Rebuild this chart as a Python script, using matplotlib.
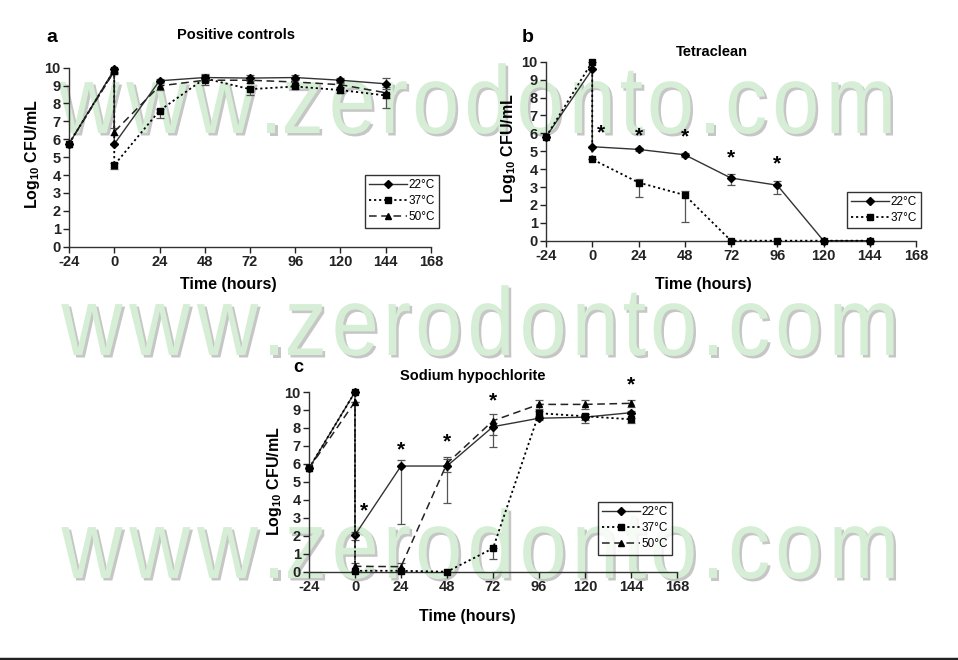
import matplotlib
matplotlib.use("Agg")
import matplotlib.pyplot as plt
from matplotlib.textpath import TextPath, text_to_path
from matplotlib.font_manager import FontProperties
from matplotlib.patches import PathPatch
from matplotlib.transforms import Affine2D

plt.rcParams['font.family'] = ['Liberation Sans', 'DejaVu Sans']

# ---------------- data ----------------
hours = [-24, 0, 0, 24, 48, 72, 96, 120, 144]
xticks = [-24, 0, 24, 48, 72, 96, 120, 144, 168]
yticks = list(range(0, 11))

# Panel a: Positive controls
a22 = [5.75, 9.9, 5.73, 9.27, 9.45, 9.42, 9.45, 9.3, 9.1]
a37 = [5.75, 9.85, 4.56, 7.6, 9.4, 8.8, 8.95, 8.75, 8.45]
a50 = [5.75, 9.8, 6.42, 8.98, 9.3, 9.3, 9.2, 9.05, 8.6]
a22_lo = [0, 0.25, 0, 0.1, 0.2, 0.15, 0.15, 0.15, 0.3]
a22_hi = [0, 0.25, 0, 0.1, 0.2, 0.15, 0.15, 0.15, 0.3]
a37_lo = [0, 0.1, 0.2, 0.4, 0.2, 0.35, 0.15, 0.15, 0.7]
a37_hi = [0, 0.1, 0.1, 0.1, 0.2, 0.1, 0.1, 0.1, 0.1]
a50_lo = [0, 0.1, 0.2, 0.2, 0.25, 0.15, 0.15, 0.15, 0.3]
a50_hi = [0, 0.1, 0.2, 0.2, 0.25, 0.15, 0.15, 0.15, 0.3]

# Panel b: Tetraclean
b22 = [5.8, 9.58, 5.25, 5.1, 4.8, 3.5, 3.1, 0, 0]
b37 = [5.8, 10.0, 4.55, 3.25, 2.55, 0, 0, 0, 0]
b22_lo = [0, 0, 0, 0.1, 0.12, 0.4, 0.5, 0, 0]
b22_hi = [0, 0, 0, 0.1, 0.12, 0.22, 0.22, 0, 0]
b37_lo = [0, 0, 0, 0.8, 1.48, 0, 0, 0, 0]
b37_hi = [0, 0, 0, 0.22, 0.22, 0, 0, 0, 0]
b_star_x = [4.5, 24, 48, 72, 96]
b_star_y = [6.05, 5.85, 5.8, 4.65, 4.28]

# Panel c: Sodium hypochlorite
c22 = [5.75, 10.0, 2.04, 5.88, 5.88, 8.07, 8.54, 8.6, 8.85]
c37 = [5.75, 10.0, 0.05, 0.05, 0.0, 1.3, 8.82, 8.65, 8.48]
c50 = [5.75, 9.46, 0.3, 0.28, 6.03, 8.4, 9.31, 9.31, 9.37]
c22_lo = [0, 0, 0.3, 3.2, 2.05, 1.15, 0.1, 0.15, 0.1]
c22_hi = [0, 0, 0.15, 0.32, 0.4, 0.2, 0.1, 0.15, 0.1]
c37_lo = [0, 0, 0, 0, 0, 0.6, 0.2, 0.35, 0.2]
c37_hi = [0, 0, 0, 0, 0, 0, 0.1, 0.1, 0.1]
c50_lo = [0, 0, 0.3, 0.28, 0.5, 0.8, 0.25, 0.25, 0.2]
c50_hi = [0, 0, 0.2, 0.2, 0.37, 0.35, 0.25, 0.25, 0.2]
c_star_x = [4.7, 24, 48, 72, 144]
c_star_y = [3.4, 6.77, 7.24, 9.52, 10.4]

labels = ['22°C', '37°C', '50°C']
wm_text = "www.zerodonto.com"

# ---------------- figure ----------------
W, H = 958, 660
fig = plt.figure(figsize=(W / 100, H / 100), dpi=100)


def ax_at(l, r, t, b):
    return fig.add_axes([l / W, 1 - b / H, (r - l) / W, (b - t) / H])


# watermark (pixel coordinates, behind everything)
def watermark(x0, x1, base, xh, squeeze=0.9):
    prop = FontProperties(family='Liberation Sans', size=100)
    adv = []
    for i in range(len(wm_text) + 1):
        w, _, _ = text_to_path.get_text_width_height_descent(wm_text[:i], prop, ismath=False)
        adv.append(w / 100.0)
    total = adv[-1]
    sy = xh / 0.519
    sx = (x1 - x0) / total
    for dx, dy, col in [(2.5, 2.5, '#c6c6c6'), (0, 0, '#d6eed6')]:
        for i, ch in enumerate(wm_text):
            tp = TextPath((0, 0), ch, size=1, prop=FontProperties(family='Liberation Sans'))
            cw = adv[i + 1] - adv[i]
            cx = adv[i] + cw / 2
            tr = (Affine2D().translate(-cw / 2, 0).scale(squeeze, 1).translate(cx, 0)
                  .scale(sx, sy).translate(x0 + dx, H - base - dy))
            patch = PathPatch(tr.transform_path(tp), facecolor=col, edgecolor='none', zorder=-5)
            patch.set_transform(Affine2D())
            fig.patches.append(patch)


watermark(55, 900, 133, 50)
watermark(58, 903, 355, 50)
watermark(58, 903, 578, 50)

line_kw = {
    0: dict(ls='-', color='#333333', lw=1.0, marker='D', ms=3.8, mfc='black', mec='black'),
    1: dict(ls=(0, (1.2, 1.6)), color='black', lw=1.3, marker='s', ms=5, mfc='black', mec='black'),
    2: dict(ls=(0, (5, 3)), color='#222222', lw=1.1, marker='^', ms=5, mfc='black', mec='black'),
}


def panel(ax, series, los, his):
    handles = []
    for i, (ys, lo, hi) in enumerate(zip(series, los, his)):
        ax.errorbar(hours, ys, yerr=[lo, hi], fmt='none', ecolor='#555555',
                    elinewidth=0.9, capsize=3, capthick=0.9, zorder=2)
        h, = ax.plot(hours, ys, label=labels[i], zorder=3, clip_on=False, **line_kw[i])
        handles.append(h)
    ax.set_xlim(-24, 168)
    ax.set_ylim(0, 10)
    ax.set_xticks(xticks)
    ax.set_yticks(yticks)
    ax.set_xticklabels([str(v) for v in xticks], fontweight='bold', fontsize=10.5)
    ax.set_yticklabels([str(v) for v in yticks], fontweight='bold', fontsize=10.5)
    ax.spines['top'].set_visible(False)
    ax.spines['right'].set_visible(False)
    for s in ('left', 'bottom'):
        ax.spines[s].set_linewidth(1.0)
        ax.spines[s].set_color('#333333')
    ax.tick_params(direction='out', length=4, width=1, pad=2, colors='#222222')
    ax.set_facecolor('none')
    return handles


def legend(ax, handles, x, y):
    lg = ax.legend(handles=handles, loc='upper left', bbox_to_anchor=(x / W, 1 - y / H),
                   bbox_transform=fig.transFigure, fontsize=8.5, frameon=True, fancybox=False,
                   handlelength=3.2, handletextpad=0.1, borderpad=0.35, labelspacing=0.35,
                   borderaxespad=0)
    lg.get_frame().set_edgecolor('black')
    lg.get_frame().set_linewidth(1.0)


# Panel a
axa = ax_at(69, 431, 67.7, 246.7)
ha = panel(axa, [a22, a37, a50], [a22_lo, a37_lo, a50_lo], [a22_hi, a37_hi, a50_hi])
legend(axa, ha, 365, 175)

# Panel b
axb = ax_at(546, 916, 61.7, 240.7)
hb = panel(axb, [b22, b37], [b22_lo, b37_lo], [b22_hi, b37_hi])
legend(axb, hb, 847, 192)
for sx_, sy_ in zip(b_star_x, b_star_y):
    axb.text(sx_, sy_, '*', ha='center', va='center', fontsize=15, fontweight='bold')

# Panel c
axc = ax_at(309, 677, 392, 571.7)
hc = panel(axc, [c22, c37, c50], [c22_lo, c37_lo, c50_lo], [c22_hi, c37_hi, c50_hi])
legend(axc, hc, 598, 502)
for sx_, sy_ in zip(c_star_x, c_star_y):
    axc.text(sx_, sy_, '*', ha='center', va='center', fontsize=15, fontweight='bold', clip_on=False)


def ftext(x, y, s, **kw):
    fig.text(x / W, 1 - y / H, s, **kw)


ylab = r'Log$_{\mathregular{10}}$ CFU/mL'
ftext(52, 38, 'a', fontsize=14, fontweight='bold', ha='center', va='center')
ftext(236, 35, 'Positive controls', fontsize=10.5, fontweight='bold', ha='center', va='center')
ftext(228, 284, 'Time (hours)', fontsize=11.5, fontweight='bold', ha='center', va='center')
ftext(33, 154, ylab, fontsize=11.5, fontweight='bold', ha='center', va='center', rotation=90)

ftext(528, 37, 'b', fontsize=14, fontweight='bold', ha='center', va='center')
ftext(712, 52, 'Tetraclean', fontsize=10.5, fontweight='bold', ha='center', va='center')
ftext(703, 284, 'Time (hours)', fontsize=11.5, fontweight='bold', ha='center', va='center')
ftext(508, 148, ylab, fontsize=11.5, fontweight='bold', ha='center', va='center', rotation=90)

ftext(298, 368, 'c', fontsize=13, fontweight='bold', ha='center', va='center')
ftext(473, 376, 'Sodium hypochlorite', fontsize=10.5, fontweight='bold', ha='center', va='center')
ftext(467, 617, 'Time (hours)', fontsize=11.5, fontweight='bold', ha='center', va='center')
ftext(275, 481, ylab, fontsize=11.5, fontweight='bold', ha='center', va='center', rotation=90)

# bottom rule
fig.add_artist(plt.Line2D([0, 1], [1 - 658.5 / H, 1 - 658.5 / H], transform=fig.transFigure,
                          color='#222222', lw=2.5))

fig.savefig('out.png', dpi=100)
